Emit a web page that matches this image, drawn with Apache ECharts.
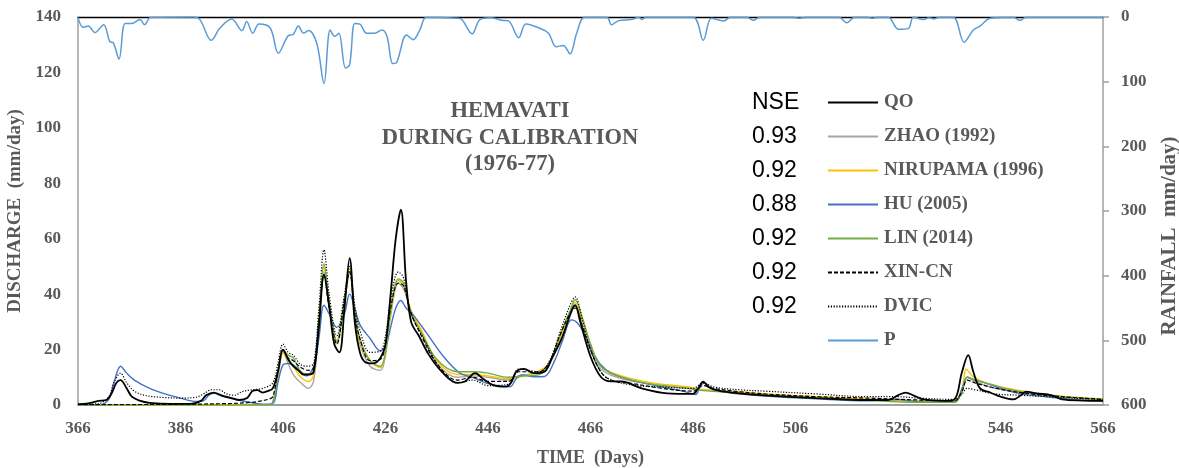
<!DOCTYPE html>
<html>
<head>
<meta charset="utf-8">
<script src="https://cdn.jsdelivr.net/npm/echarts@6/dist/echarts.min.js"></script>
<style>
  html, body { margin: 0; padding: 0; background: #ffffff; }
  #chart { width: 1179px; height: 468px; }
</style>
</head>
<body>
<div id="chart"></div>
<script>
// Hemavati basin, calibration period 1976-77: observed vs simulated discharge (mm/day) and rainfall.
const dayTicks = [366, 386, 406, 426, 446, 466, 486, 506, 526, 546, 566];

const QO = [[366,0.3],[368,0.6],[370,1.5],[371.5,1.8],[372.5,4],[373.5,8],[374.3,9],[375.5,6],[376.5,3],[378,1.6],[380,0.8],[384,0.4],[388,0.4],[390,1.5],[391,3.5],[392.5,4.5],[394,3.5],[396,2.5],[397.5,1.8],[399,2.5],[400,5],[401,5.4],[402,4.5],[403,5],[404,6],[405,12],[406,20],[407,16.5],[408,14],[409,12.5],[410,11],[411,11],[412,12],[413,28],[414,47],[415,36],[416,22],[417,19],[418,35],[419,53],[420,30],[421,19],[422,15.5],[423.5,15],[425,17],[426,22],[427,40],[428,60],[429,70.5],[430,45],[431,30],[432.5,25],[434.5,18],[437,12],[440,8],[441.5,8.5],[443.5,11.5],[445,9.5],[447,7.2],[449.5,6.6],[450.5,8],[451.5,12],[453,13],[455,11.5],[457,12],[458.5,17],[460.5,24.5],[462.3,34],[463,36],[464,30],[466,17.5],[468,10.2],[470,8.5],[472,8.5],[476,6],[481,4.2],[486,4],[487,6],[488,8.4],[489,6.5],[491,5.2],[495,4.2],[500,3.5],[510,2.5],[520,1.8],[524,1.8],[526,3.5],[527.5,4.5],[529,3.5],[531,2],[535,1.5],[537,2],[538.5,12],[539.7,18],[540.7,12],[542,6],[544,4.5],[546,3],[548.5,2],[550,3.5],[551,4.8],[553,4.2],[556,3.5],[558,2],[562,1.6],[566,1.5]];

const ZHAO = [[366,0],[403,0],[404,1],[405,10],[406,19],[407,15],[408,11],[409.5,8],[411,6],[412,9],[413,28],[414,48],[415,35],[416.5,23],[418,38],[419,48],[420,32],[421,22],[423,14],[425,12.5],[426,18],[427,32],[428.5,44],[429.5,42],[431,34],[433,26],[436,15],[440,10],[443,10.5],[446,10],[450,9],[452,10.5],[456,12],[458,15],[460,23],[462,32],[463,36],[464.5,28],[466,20],[468,13],[472,9.5],[478,7.5],[485,6],[488,5.5],[495,4.5],[500,3.5],[510,2.5],[520,1.8],[530,1.2],[537,1],[538.5,5],[539.5,10],[541,8.5],[544,6.5],[548,5],[552,4],[558,3],[566,2]];

const NIRUPAMA = [[366,0],[403,0],[404,1],[405,10],[406,19],[407,16],[408,14],[409.5,10],[411,8.5],[412,11],[413,30],[414,50],[415,36],[416.5,22],[418,38],[419,49],[420,33],[421,23],[423,16],[425,13.5],[426,19],[427,33],[428.5,45],[429.5,43],[431,34],[433,27],[436,16],[440,11],[443,11],[446,10.5],[450,9.5],[452,10],[455,11.5],[458,15],[460,24],[462,33],[463,37],[464.5,30],[466,22],[468,14],[472,10.5],[478,8],[485,6.5],[488,5.5],[495,4.8],[500,4],[510,3],[520,2.2],[530,1.5],[537,1.5],[538.5,6],[539.3,13],[540.5,10.5],[543,8],[546,6.5],[552,4.5],[558,3.2],[566,2.2]];

const HU = [[366,0],[370,0],[372,2],[373,8],[374.3,14],[375.5,11.5],[377,9],[380,6],[383,4],[386,2.5],[389,1.3],[390.5,1.5],[391.5,3.5],[392.5,4.2],[394,3.2],[396,2.3],[398,1.5],[400,0.8],[402,0.3],[404,0.5],[405,8],[406,14.5],[407,15],[408,14.5],[409,13],[410.5,10.5],[412,14],[413,24],[414,36],[415,33],[416.5,28],[418,33],[419,40],[420,35],[421,29],[423,24],[425,19.5],[426,21],[427,28],[428,35],[429,37.7],[430,35],[431.4,32.5],[434,26],[437.3,17.5],[440.5,11.5],[443,10],[445.5,8],[448,7],[450.3,6.6],[451.5,9.5],[452.5,10.8],[455,10.2],[457,10.3],[459,16],[460.5,23],[462.3,30.7],[463.5,29.5],[465,25],[466.6,18.6],[468,14.5],[470,11.5],[474,9],[480,6.5],[484,5],[486.5,3.8],[487.5,7],[488.3,8],[489.5,6],[491,5],[495,4],[500,3.2],[510,2.2],[520,1.5],[526,2],[530,1.2],[537,1],[538.5,6],[539.5,10],[541,9],[543,8],[546,6],[550,4],[555,3],[560,2],[566,1.5]];

const LIN = [[366,0],[403,0],[404,1],[405,11],[406,20],[407,18],[408,17],[409.5,12],[411,11],[412,13],[413,31],[414,51],[415,37],[416.5,23],[418,37],[419,48],[420,34],[421,24],[423,16],[425,14],[426,19],[427,34],[428.5,45.5],[429.5,44],[431,33],[433,26],[436,16.5],[440,12],[443,12],[446,11.5],[450,10],[453,10.5],[456,11],[458,15],[460,25],[462,34],[463,38],[464.5,31],[466,22],[468,14],[472,10],[478,7.5],[485,6],[488,5.2],[495,4.3],[500,3.5],[510,2.5],[520,1.7],[528,1],[537,1],[538.5,5],[539.5,10],[541,9],[544,7.5],[548,5.5],[552,4.2],[558,3],[566,2]];

const XIN_CN = [[366,0.1],[380,0.2],[395,0.5],[400,1],[403,2],[404,3],[405,12],[406,20],[407,17],[408,16],[409.5,13.5],[411,12.5],[412,13.5],[413,30],[414,47],[415,35],[416.5,22],[418,38],[419,48],[420,33],[421,24],[423,16],[425,16.5],[426,22],[427,35],[428.5,44],[429.5,43],[431,33],[433,25],[436,15],[440,9],[443,10],[446,8.5],[450,8.5],[452,12],[456,12],[458,15.5],[460,25],[462,33],[463,35],[464.5,28],[466,20],[468,12],[470,9],[475,7.5],[480,6],[486,5],[488,7],[490,6],[495,4.8],[500,4],[510,3],[520,2.5],[530,1.8],[537,1.5],[538.5,5],[539.5,9],[541,8],[544,6.5],[548,5],[552,4],[558,3],[566,2]];

const DVIC = [[366,0.2],[370,0.5],[372,3],[373,8],[374.3,11.5],[375.5,8],[377,5],[379,3.5],[382,2.8],[386,2.5],[389,2.8],[390.5,4],[392,5.5],[393.5,5.5],[395,4],[396.5,3.5],[398,4.8],[400,5.5],[402,6],[404,8],[405,15],[406,22],[407,19],[408,18],[409.5,14.5],[411,14],[412,15],[413,35],[414,56],[415,40],[416.5,25],[418,40],[419,50],[420,36],[421,27],[423,19],[425,19.5],[426,25],[427,38],[428.5,48],[429.5,46],[431,33],[434,22],[436,15],[438,10],[440,8],[443,9],[446,7],[450,7.5],[452,13],[456,12],[458,16],[460,26],[462,36],[463,39],[464.5,30],[466,20],[468,12],[470,9],[475,7],[480,6.5],[486,6],[488,8],[490,6.5],[495,5.5],[500,5],[510,4],[520,3],[526,3],[530,2.5],[537,2],[538.5,4],[539.5,6],[541,5.5],[545,4],[550,3.5],[555,3],[560,2.5],[566,2]];

// Rainfall (mm/day), plotted downward from the top on the right axis
const P = [[366,0.5],[367,16],[368,14],[369.3,24],[371,12],[372.2,38],[372.9,40],[374,65],[375.2,10],[376.5,10],[378.1,4],[379,12],[380.2,0.5],[388.5,0],[389.8,4],[392,36],[393.7,17],[396,3],[398,21],[398.9,7],[400.1,25],[401.3,11],[403.5,17],[405.1,56],[407,29],[408,27],[409,14],[410,25],[411,21],[412.6,41],[414,103],[415.2,20],[416.1,30],[416.9,25],[418.2,79],[419,74],[420,10],[421,11],[422.3,25],[423.9,25],[425.3,20],[426.3,30],[427.4,72],[428.2,70],[430.1,28],[431.4,35],[432.7,20],[434,0.5],[440,2],[440.9,4],[442.9,26],[444.4,4],[446.4,1],[448.7,5],[450,6],[452,32],[453.4,11],[456.1,17.5],[457.8,25],[459.3,46],[460.7,44],[462,57],[463.3,25],[464.9,0.5],[469.2,0.5],[470.1,12],[471.4,6],[473.9,4],[475.5,0.5],[476,4],[476.8,0.5],[486,0.5],[488,36],[489.6,2],[492,6],[493.3,0.5],[496.5,0.5],[497.8,5],[499,0.5],[505.5,0.5],[506.7,2],[508,0.5],[514.5,0.5],[516,9],[517.5,0.5],[520,0.5],[521,2],[522,0.5],[524.1,0.5],[526.1,19],[528,18],[529,0.5],[531,4],[532,1],[533,3],[534,0.5],[536.8,0.5],[538.9,39],[540.7,20],[542,14],[544,2],[548.5,0.5],[549.8,5],[551,0.5],[566,0.5]];

const seriesNames = ['QO', 'ZHAO (1992)', 'NIRUPAMA (1996)', 'HU (2005)', 'LIN (2014)', 'XIN-CN', 'DVIC', 'P'];
const nseHeader = 'NSE';
const nseValues = ['0.93', '0.92', '0.88', '0.92', '0.92', '0.92'];
const titleLines = ['HEMAVATI', 'DURING CALIBRATION', '(1976-77)'];

const serif = '"Liberation Serif", "Times New Roman", serif';
const grayText = '#595959';
const axisGray = '#a0a0a0';

function lineSeries(name, data, color, width, type, yIdx, xIdx, z) {
  return {
    name: name,
    type: 'line',
    data: data,
    xAxisIndex: xIdx || 0,
    yAxisIndex: yIdx || 0,
    smooth: 0.35,
    symbol: 'none',
    z: z || 2,
    lineStyle: { color: color, width: width, type: type || 'solid' },
    itemStyle: { color: color }
  };
}

const chart = echarts.init(document.getElementById('chart'), null, { renderer: 'canvas' });

const legendTop = 100;
const legendStep = 34;
const nseFont = '23px "Liberation Sans", Arial, sans-serif';
const graphics = [{
  type: 'text', left: 752, top: legendTop - 9,
  style: { text: nseHeader, font: nseFont, fill: '#000000' }
}];
nseValues.forEach(function (v, i) {
  graphics.push({
    type: 'text', left: 752, top: legendTop + (i + 1) * legendStep - 9,
    style: { text: v, font: nseFont, fill: '#000000' }
  });
});

const labelStyle = { color: grayText, fontFamily: serif, fontWeight: 'bold', fontSize: 17 };

chart.setOption({
  animation: false,
  backgroundColor: '#ffffff',
  title: {
    text: titleLines.join('\n'),
    left: 505,
    top: 93,
    textAlign: 'center',
    textStyle: { color: grayText, fontFamily: serif, fontWeight: 'bold', fontSize: 22.5, lineHeight: 26.5 }
  },
  legend: {
    orient: 'vertical',
    left: 827,
    top: legendTop - 7,
    padding: 0,
    itemWidth: 50,
    itemHeight: 20,
    itemGap: 15,
    data: seriesNames,
    itemStyle: { opacity: 0 },
    textStyle: { color: grayText, fontFamily: serif, fontWeight: 'bold', fontSize: 19, padding: [0, 0, 0, 1] }
  },
  grid: { left: 78, right: 76, top: 17, bottom: 63, outerBoundsMode: 'none', containLabel: false },
  xAxis: [{
    type: 'value', min: 366, max: 566, interval: 20,
    name: 'TIME  (Days)', nameLocation: 'middle', nameGap: 44,
    nameTextStyle: { color: grayText, fontFamily: serif, fontWeight: 'bold', fontSize: 18 },
    axisLine: { show: true, lineStyle: { color: axisGray, width: 2 } },
    axisTick: { show: false },
    splitLine: { show: false },
    axisLabel: Object.assign({ margin: 15, showMinLabel: true, showMaxLabel: true }, labelStyle)
  }, {
    type: 'value', min: 366, max: 566, interval: 20, position: 'top',
    axisLine: { show: true, onZero: false, lineStyle: { color: '#000000', width: 1.3 } },
    axisTick: { show: false }, axisLabel: { show: false }, splitLine: { show: false }
  }],
  yAxis: [{
    type: 'value', min: 0, max: 140, interval: 20, position: 'left',
    name: 'DISCHARGE  (mm/day)', nameLocation: 'middle', nameGap: 50, nameRotate: 90,
    nameTextStyle: { color: grayText, fontFamily: serif, fontWeight: 'bold', fontSize: 19 },
    axisLine: { show: true, lineStyle: { color: axisGray, width: 1.5 } },
    axisTick: { show: false },
    splitLine: { show: false },
    axisLabel: Object.assign({ margin: 17 }, labelStyle)
  }, {
    type: 'value', min: 0, max: 600, interval: 100, position: 'right', inverse: true,
    name: 'RAINFALL  mm/day)', nameLocation: 'middle', nameGap: 56, nameRotate: 90,
    nameTextStyle: { color: grayText, fontFamily: serif, fontWeight: 'bold', fontSize: 21, padding: [0, 50, 0, 0] },
    axisLine: { show: true, lineStyle: { color: axisGray, width: 1.5 } },
    axisTick: { show: true, length: 6, lineStyle: { color: axisGray, width: 1.5 } },
    splitLine: { show: false },
    axisLabel: Object.assign({ margin: 18 }, labelStyle)
  }],
  graphic: graphics,
  series: [
    lineSeries('ZHAO (1992)', ZHAO, '#a5a5a5', 1.4),
    lineSeries('NIRUPAMA (1996)', NIRUPAMA, '#ffc000', 1.4),
    lineSeries('HU (2005)', HU, '#4472c4', 1.4),
    lineSeries('LIN (2014)', LIN, '#70ad47', 1.4),
    lineSeries('XIN-CN', XIN_CN, '#000000', 1.2, [4, 2]),
    lineSeries('DVIC', DVIC, '#000000', 1.2, [1.2, 1.6]),
    lineSeries('QO', QO, '#000000', 1.8, 'solid', 0, 0, 3),
    lineSeries('P', P, '#5b9bd5', 1.5, 'solid', 1, 1, 4)
  ]
});
</script>
</body>
</html>
